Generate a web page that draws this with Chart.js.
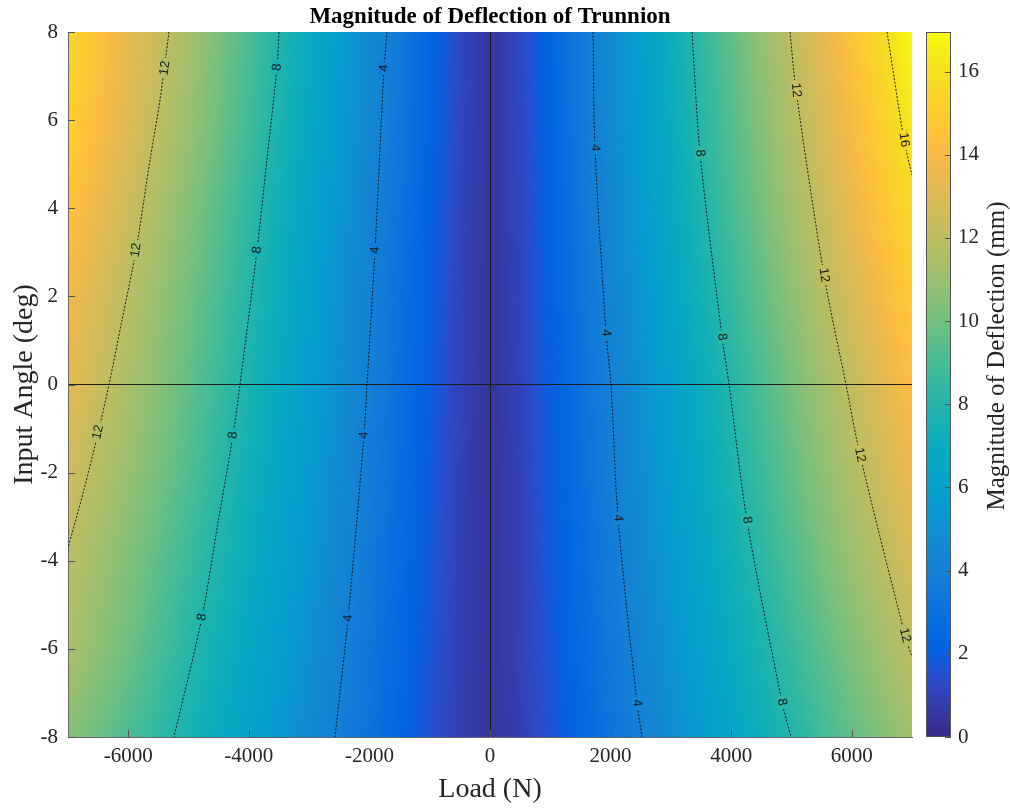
<!DOCTYPE html>
<html lang="en">
<head>
<meta charset="UTF-8">
<title>Magnitude of Deflection of Trunnion</title>
<script src="https://cdn.jsdelivr.net/npm/chart.js@4.4.1/dist/chart.umd.min.js"></script>
<style>
  body { margin: 0; background: #fff; }
  #wrap { width: 1010px; height: 808px; }
</style>
</head>
<body>
<div id="wrap"><canvas id="grafico" width="1010" height="808"></canvas></div>
<script>
// sampled grid: load (N) columns, input angle (deg) rows
const loads = [-7000, -6000, -5000, -4000, -3000, -2000, -1000, -500, 0, 500, 1000, 2000, 3000, 4000, 5000, 6000, 7000];
const angles = [-8, -6, -4, -2, 0, 2, 4, 6, 8];

// deflection magnitude (mm) along each angle row
const deflM8 = [10.55, 9.1, 7.63, 6.15, 4.65, 3.13, 1.58, 0.9, 0.45, 0.9, 1.6, 3.2, 4.8, 6.4, 8.0, 9.6, 11.2];
const deflM6 = [11.45, 9.9, 8.15, 6.6, 4.98, 3.35, 1.7, 0.95, 0.45, 0.95, 1.72, 3.45, 5.17, 6.9, 8.6, 10.3, 12.05];
const deflM4 = [11.95, 10.35, 8.65, 7.03, 5.3, 3.55, 1.8, 0.98, 0.45, 0.98, 1.83, 3.65, 5.5, 7.33, 9.15, 11.0, 12.8];
const deflM2 = [12.6, 10.95, 9.2, 7.35, 5.6, 3.75, 1.88, 1.0, 0.45, 1.0, 1.92, 3.85, 5.8, 7.72, 9.65, 11.6, 13.55];
const defl0  = [13.3, 11.45, 9.6, 7.75, 5.85, 3.93, 1.98, 1.05, 0.45, 1.05, 2.0, 4.0, 6.02, 8.06, 10.1, 12.15, 14.2];
const deflP2 = [13.8, 11.9, 10.0, 8.08, 6.05, 4.05, 2.05, 1.1, 0.45, 1.1, 2.1, 4.22, 6.35, 8.5, 10.65, 12.8, 14.95];
const deflP4 = [14.5, 12.5, 10.45, 8.4, 6.33, 4.25, 2.15, 1.15, 0.45, 1.15, 2.2, 4.45, 6.7, 8.95, 11.2, 13.45, 15.7];
const deflP6 = [15.15, 13.1, 11.0, 8.85, 6.7, 4.5, 2.28, 1.2, 0.45, 1.2, 2.3, 4.62, 6.95, 9.3, 11.65, 14.0, 16.35];
const deflP8 = [15.5, 13.4, 11.3, 9.1, 6.9, 4.66, 2.36, 1.25, 0.45, 1.25, 2.36, 4.7, 7.15, 9.6, 12.05, 14.5, 16.95];
const grid = [deflM8, deflM6, deflM4, deflM2, defl0, deflP2, deflP4, deflP6, deflP8];

const xTicks = [-6000, -4000, -2000, 0, 2000, 4000, 6000];
const yTicks = [-8, -6, -4, -2, 0, 2, 4, 6, 8];
const cbTicks = [0, 2, 4, 6, 8, 10, 12, 14, 16];
const cMin = 0, cMax = 16.95;

// contour lines (load, angle)
const left12Load = [-5325, -5474, -5640, -5872, -6104, -6320, -6502, -6735, -7000];
const left12Angle = [8, 6.46, 5.09, 3.05, 1.46, 0, -1.10, -2.39, -3.71];
const left8Load = [-3500, -3533, -3700, -3865, -4147, -4263, -4520, -4777, -5242];
const left8Angle = [8, 7.21, 5.1, 3.05, 0, -1.15, -3.2, -5.28, -8];
const left4Load = [-1708, -1758, -1907, -2040, -2090, -2355, -2571];
const left4Angle = [8, 7.18, 3.05, 0, -1.15, -5.30, -8];
const right4Load = [1709, 1742, 1924, 2007, 2123, 2439, 2522];
const right4Angle = [8, 5.37, 1.17, 0, -3.03, -7.23, -8];
const right8Load = [3351, 3484, 3849, 3965, 4263, 4844, 4993];
const right8Angle = [8, 5.25, 1.08, 0, -3.08, -7.21, -8];
const right12Load = [4977, 5076, 5541, 5905, 6138, 6884, 7000];
const right12Angle = [8, 6.68, 2.48, 0, -1.6, -5.69, -6.18];
const right16Load = [6586, 6868, 7000];
const right16Angle = [8, 5.55, 4.75];

// contour labels: which line, text, load, angle
const labelLine = [0, 0, 0, 1, 1, 1, 1, 2, 2, 2, 2, 3, 3, 3, 3, 4, 4, 4, 4, 5, 5, 5, 5, 6];
const labelText = ['12', '12', '12', '8', '8', '8', '8', '4', '4', '4', '4', '4', '4', '4', '4', '8', '8', '8', '8', '12', '12', '12', '12', '16'];
const labelLoad = [-5391, -5872, -6502, -3533, -3865, -4263, -4777, -1758, -1907, -2090, -2355, 1742, 1924, 2123, 2439, 3484, 3849, 4263, 4844, 5076, 5541, 6138, 6884, 6868];
const labelAngle = [7.18, 3.05, -1.08, 7.2, 3.05, -1.15, -5.28, 7.18, 3.05, -1.15, -5.3, 5.37, 1.17, -3.03, -7.23, 5.25, 1.08, -3.08, -7.21, 6.68, 2.48, -1.6, -5.69, 5.55];

const contourLoads = [left12Load, left8Load, left4Load, right4Load, right8Load, right12Load, right16Load];
const contourAngles = [left12Angle, left8Angle, left4Angle, right4Angle, right8Angle, right12Angle, right16Angle];

// parula colormap
const parula = ['#352a87','#363093','#3637a0','#353dad','#3243ba','#2c4ac7','#2053d4','#0f5cdd','#0363e1','#0268e1','#046de0','#0871de','#0d75dc','#1079da','#127dd8','#1481d6','#1485d4','#1389d3','#108ed2','#0c93d2','#0998d1','#079ccf','#06a0cd','#06a4ca','#06a7c6','#07a9c2','#0aacbe','#0faeb9','#15b1b4','#1db3af','#25b5a9','#2eb7a4','#38b99e','#42bb98','#4dbc92','#59bd8c','#65be86','#71bf80','#7cbf7b','#87bf77','#92bf73','#9cbf6f','#a5be6b','#aebe67','#b7bd64','#c0bc60','#c8bc5d','#d1bb59','#d9ba56','#e1b952','#e9b94e','#f1b94a','#f8bb44','#fdbe3d','#ffc337','#fec832','#fcce2e','#fad32a','#f7d826','#f5de21','#f5e41d','#f5eb18','#f6f313','#f9fb0e'];
const parulaRgb = parula.map(h => [parseInt(h.slice(1, 3), 16), parseInt(h.slice(3, 5), 16), parseInt(h.slice(5, 7), 16)]);

function colorFor(v) {
  let f = (v - cMin) / (cMax - cMin);
  f = Math.max(0, Math.min(1, f)) * (parulaRgb.length - 1);
  const i = Math.min(Math.floor(f), parulaRgb.length - 2);
  const t = f - i;
  const a = parulaRgb[i], b = parulaRgb[i + 1];
  return 'rgb(' + Math.round(a[0] + (b[0] - a[0]) * t) + ',' + Math.round(a[1] + (b[1] - a[1]) * t) + ',' + Math.round(a[2] + (b[2] - a[2]) * t) + ')';
}

// shaded field, drawn under the axes
const heatmap = {
  id: 'heatmap',
  beforeDraw(chart) {
    const {ctx, chartArea: area, scales: {x, y}} = chart;
    const w = area.right - area.left;
    const sub = 24;
    ctx.save();
    for (let j = 0; j < angles.length - 1; j++) {
      const y0 = y.getPixelForValue(angles[j]);
      const y1 = y.getPixelForValue(angles[j + 1]);
      for (let s = 0; s < sub; s++) {
        const t = (s + 0.5) / sub;
        const row = grid[j].map((v, i) => v + (grid[j + 1][i] - v) * t);
        const g = ctx.createLinearGradient(area.left, 0, area.right, 0);
        for (let i = 0; i < loads.length - 1; i++) {
          const xa = x.getPixelForValue(loads[i]), xb = x.getPixelForValue(loads[i + 1]);
          for (let k = 0; k < 4; k++) {
            const u = k / 4;
            const off = Math.max(0, Math.min(1, (xa + (xb - xa) * u - area.left) / w));
            g.addColorStop(off, colorFor(row[i] + (row[i + 1] - row[i]) * u));
          }
        }
        g.addColorStop(1, colorFor(row[row.length - 1]));
        ctx.fillStyle = g;
        const top = Math.floor(y0 + (y1 - y0) * (s + 1) / sub);
        const bot = Math.ceil(y0 + (y1 - y0) * s / sub);
        ctx.fillRect(area.left, top, w, bot - top);
      }
    }
    ctx.restore();
  }
};

// contour labels with a gap cut into the dashed line
const contourLabels = {
  id: 'contourLabels',
  afterDatasetsDraw(chart) {
    const {ctx, chartArea: area, scales: {x, y}} = chart;
    ctx.save();
    ctx.font = "13px 'Liberation Sans', Arial, sans-serif";
    ctx.textAlign = 'center';
    ctx.textBaseline = 'middle';
    labelText.forEach((txt, n) => {
      const px = x.getPixelForValue(labelLoad[n]);
      const py = y.getPixelForValue(labelAngle[n]);
      const L = contourLoads[labelLine[n]], A = contourAngles[labelLine[n]];
      let i = 0;
      while (i < A.length - 2 && A[i + 1] > labelAngle[n]) i++;
      const dx = x.getPixelForValue(L[i + 1]) - x.getPixelForValue(L[i]);
      const dy = y.getPixelForValue(A[i + 1]) - y.getPixelForValue(A[i]);
      let ang = Math.atan2(dy, dx);
      if (ang > Math.PI / 2) ang -= Math.PI;
      if (ang <= -Math.PI / 2) ang += Math.PI;
      const sx = px + 9 < area.right - 1 ? px + 9 : px - 9;
      const d = ctx.getImageData(Math.round(sx), Math.round(py), 1, 1).data;
      const tw = ctx.measureText(txt).width;
      ctx.save();
      ctx.translate(px, py);
      ctx.rotate(ang);
      ctx.fillStyle = 'rgb(' + d[0] + ',' + d[1] + ',' + d[2] + ')';
      ctx.fillRect(-tw / 2 - 3, -5, tw + 6, 10);
      ctx.fillStyle = '#1a1a1a';
      ctx.fillText(txt, 0, 0);
      ctx.restore();
    });
    ctx.restore();
  }
};

// title, inner tick marks and the colour bar
const frame = {
  id: 'frame',
  afterDraw(chart) {
    const {ctx, chartArea: area, scales: {x, y, cb}} = chart;
    ctx.save();
    ctx.font = "bold 23px 'Liberation Serif', serif";
    ctx.textAlign = 'center';
    ctx.textBaseline = 'middle';
    ctx.fillStyle = '#000';
    ctx.fillText('Magnitude of Deflection of Trunnion', (area.left + area.right) / 2, 17);

    ctx.strokeStyle = '#555';
    ctx.lineWidth = 1;
    ctx.beginPath();
    xTicks.forEach(v => {
      const px = Math.round(x.getPixelForValue(v)) + 0.5;
      ctx.moveTo(px, area.bottom);
      ctx.lineTo(px, area.bottom - 7);
    });
    yTicks.forEach(v => {
      const py = Math.round(y.getPixelForValue(v)) + 0.5;
      ctx.moveTo(area.left, py);
      ctx.lineTo(area.left + 7, py);
    });
    ctx.stroke();

    const bx = cb.left + 14, bw = 25;
    const g = ctx.createLinearGradient(0, cb.bottom, 0, cb.top);
    parula.forEach((c, i) => g.addColorStop(i / (parula.length - 1), c));
    ctx.fillStyle = g;
    ctx.fillRect(bx, cb.top, bw, cb.bottom - cb.top);
    ctx.strokeRect(bx + 0.5, cb.top + 0.5, bw - 1, cb.bottom - cb.top - 1);
    ctx.beginPath();
    cbTicks.forEach(v => {
      const py = Math.round(cb.getPixelForValue(v)) + 0.5;
      ctx.moveTo(bx + bw - 6, py);
      ctx.lineTo(bx + bw, py);
    });
    ctx.stroke();

    ctx.font = "21px 'Liberation Serif', serif";
    ctx.textAlign = 'left';
    ctx.fillStyle = '#262626';
    cbTicks.forEach(v => ctx.fillText(String(v), bx + bw + 7, cb.getPixelForValue(v)));

    ctx.translate(997, 356);
    ctx.rotate(-Math.PI / 2);
    ctx.textAlign = 'center';
    ctx.font = "25px 'Liberation Serif', serif";
    ctx.fillText('Magnitude of Deflection (mm)', 0, 0);
    ctx.restore();
  }
};

Chart.defaults.font.family = "'Liberation Serif', 'Times New Roman', serif";
Chart.defaults.color = '#262626';

const datasets = contourLoads.map((L, k) => ({
  data: L.map((v, i) => ({x: v, y: contourAngles[k][i]})),
  showLine: true,
  borderColor: 'rgba(15,15,15,0.9)',
  borderWidth: 1,
  borderDash: [2, 1.6],
  pointRadius: 0,
  tension: 0.3,
  fill: false
}));

const zeroLine = c => (c.tick && c.tick.value === 0) ? '#1e1e1e' : 'rgba(0,0,0,0)';

new Chart(document.getElementById('grafico'), {
  type: 'scatter',
  data: { datasets },
  options: {
    responsive: false,
    animation: false,
    layout: { padding: { top: 32, left: 0, right: 0, bottom: 0 } },
    plugins: {
      legend: { display: false },
      tooltip: { enabled: false },
      title: { display: false }
    },
    scales: {
      x: {
        type: 'linear',
        min: -7000,
        max: 7000,
        afterBuildTicks: s => { s.ticks = xTicks.map(v => ({value: v})); },
        afterFit: s => { s.height = 71; },
        grid: { drawTicks: false, color: zeroLine, lineWidth: 1 },
        border: { display: true, color: '#666', width: 1 },
        ticks: { padding: 7, autoSkip: false, maxRotation: 0, font: { size: 21 }, callback: v => String(v) },
        title: { display: true, text: 'Load (N)', font: { size: 28 }, padding: { top: 0, bottom: 2 } }
      },
      y: {
        type: 'linear',
        min: -8,
        max: 8,
        afterBuildTicks: s => { s.ticks = yTicks.map(v => ({value: v})); },
        afterFit: s => { s.width = 68; },
        grid: { drawTicks: false, color: zeroLine, lineWidth: 1 },
        border: { display: true, color: '#666', width: 1 },
        ticks: { padding: 10, font: { size: 21 }, callback: v => String(v) },
        title: { display: true, text: 'Input Angle (deg)', font: { size: 28 }, padding: { top: 8, bottom: 0 } }
      },
      cb: {
        type: 'linear',
        position: 'right',
        min: cMin,
        max: cMax,
        afterBuildTicks: s => { s.ticks = cbTicks.map(v => ({value: v})); },
        afterFit: s => { s.width = 98; },
        grid: { display: false, drawTicks: false, drawOnChartArea: false },
        border: { display: false },
        ticks: { display: false }
      }
    }
  },
  plugins: [heatmap, contourLabels, frame]
});
</script>
</body>
</html>
